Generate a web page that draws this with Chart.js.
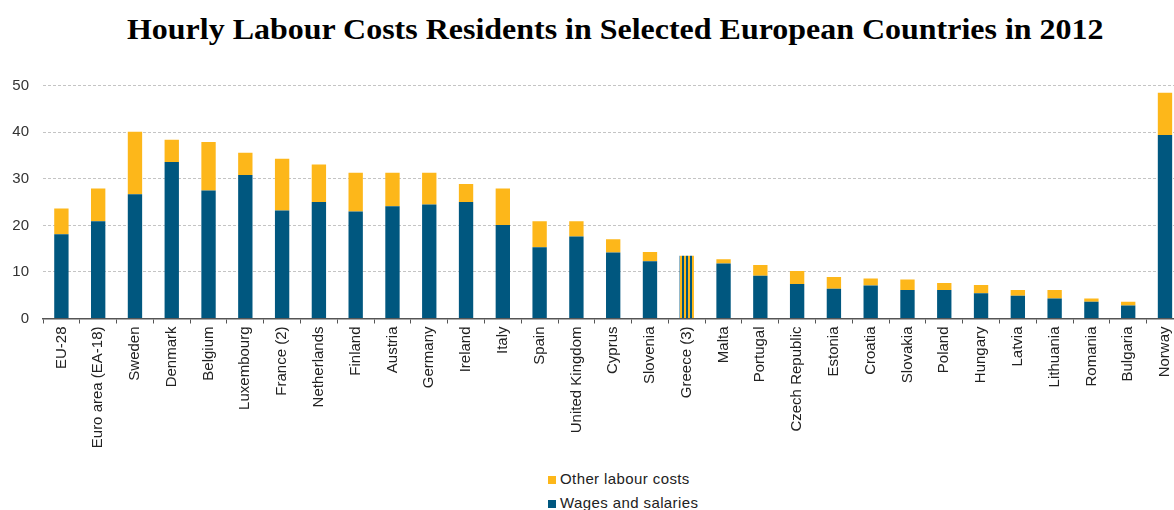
<!DOCTYPE html>
<html>
<head>
<meta charset="utf-8">
<script src="https://cdn.jsdelivr.net/npm/chart.js@4.4.0/dist/chart.umd.min.js"></script>
<style>
  html, body { margin: 0; padding: 0; background: #fff; overflow: hidden; width: 1174px; height: 510px; }
  #title { position: absolute; left: 0; top: 14px; width: 1230px; text-align: center; white-space: nowrap; }
  #title span { display: inline-block; font: bold 30px/30px "Liberation Serif", "Times New Roman", serif; color: #000; transform-origin: center; }
  #wrap { position: absolute; left: 0; top: 60px; width: 1186px; height: 400px; }
  #legend { position: absolute; left: 548px; top: 467px; font: 15px "Liberation Sans", Arial, sans-serif; color: #222; letter-spacing: 0.4px; }
  #legend div { height: 24px; line-height: 24px; }
  #legend i { display: inline-block; width: 8px; height: 8px; margin-right: 4px; vertical-align: 0px; }
</style>
</head>
<body>
<div id="title"><span>Hourly Labour Costs Residents in Selected European Countries in 2012</span></div>
<div id="wrap"><canvas id="chart" width="1186" height="400"></canvas></div>
<div id="legend"></div>
<script>
const categories = ["EU-28", "Euro area (EA-18)", "Sweden", "Denmark", "Belgium", "Luxembourg", "France (2)",
  "Netherlands", "Finland", "Austria", "Germany", "Ireland", "Italy", "Spain", "United Kingdom", "Cyprus",
  "Slovenia", "Greece (3)", "Malta", "Portugal", "Czech Republic", "Estonia", "Croatia", "Slovakia", "Poland",
  "Hungary", "Latvia", "Lithuania", "Romania", "Bulgaria", "Norway"];

// EUR per hour
const wages = [18.1, 20.9, 26.7, 33.6, 27.5, 30.8, 23.2, 25.0, 23.0, 24.1, 24.5, 25.0, 20.1, 15.3, 17.6, 14.2,
  12.3, null, 11.8, 9.2, 7.4, 6.4, 7.1, 6.1, 6.1, 5.4, 4.9, 4.3, 3.6, 2.8, 39.4];
const otherCosts = [5.5, 7.0, 13.4, 4.8, 10.4, 4.8, 11.1, 8.1, 8.3, 7.2, 6.8, 3.9, 7.8, 5.6, 3.3, 2.8,
  2.0, null, 0.9, 2.3, 2.8, 2.5, 1.5, 2.3, 1.5, 1.8, 1.2, 1.8, 0.7, 0.8, 9.1];
// Greece: total only, no breakdown
const totalOnly = [null, null, null, null, null, null, null, null, null, null, null, null, null, null, null, null,
  null, 13.5, null, null, null, null, null, null, null, null, null, null, null, null, null];

const yTicks = [0, 10, 20, 30, 40, 50];

const blue = "#00577f";
const yellow = "#fdb71a";

// fit title to the width it has in the original
const titleSpan = document.querySelector("#title span");
titleSpan.style.transform = `scaleX(${976 / titleSpan.offsetWidth})`;

// striped fill for Greece
const pat = document.createElement("canvas");
pat.width = 4;
pat.height = 4;
const pctx = pat.getContext("2d");
pctx.fillStyle = yellow;
pctx.fillRect(0, 0, 2, 4);
pctx.fillStyle = blue;
pctx.fillRect(2, 0, 2, 4);
const stripes = pctx.createPattern(pat, "repeat");

const legendItems = [["Other labour costs", yellow], ["Wages and salaries", blue]];
document.getElementById("legend").innerHTML = legendItems
  .map(([name, col]) => `<div><i style="background:${col}"></i>${name}</div>`).join("");

new Chart(document.getElementById("chart"), {
  type: "bar",
  data: {
    labels: categories,
    datasets: [
      { label: "Wages and salaries", data: wages, backgroundColor: blue },
      { label: "Other labour costs", data: otherCosts, backgroundColor: yellow },
      { label: "Total", data: totalOnly, backgroundColor: stripes }
    ]
  },
  options: {
    responsive: false,
    animation: false,
    layout: { padding: { top: 25.7, right: 1, left: 0, bottom: 0 } },
    datasets: { bar: { barPercentage: 0.39, categoryPercentage: 1.0, borderWidth: 0 } },
    plugins: {
      legend: { display: false },
      title: { display: false },
      tooltip: { enabled: false }
    },
    scales: {
      x: {
        stacked: true,
        grid: { display: true, drawOnChartArea: false, drawTicks: true, tickLength: 5, offset: true, color: "#555" },
        border: { display: true, color: "#555", width: 1.5 },
        ticks: {
          autoSkip: false, minRotation: 90, maxRotation: 90, padding: 3, color: "#222",
          font: { family: "Liberation Sans", size: 15 }
        },
        afterFit: s => { s.height = 141.5; }
      },
      y: {
        stacked: true,
        min: 0,
        max: 50,
        afterBuildTicks: s => { s.ticks = yTicks.map(v => ({ value: v })); },
        grid: {
          drawTicks: false,
          color: c => (c.tick && c.tick.value === 0 ? "rgba(0,0,0,0)" : "#c4c4c4")
        },
        border: { display: false, dash: [3, 2] },
        ticks: { padding: 14, color: "#333", font: { family: "Liberation Sans", size: 15 } },
        afterFit: s => { s.width = 43; }
      }
    }
  }
});
</script>
</body>
</html>
